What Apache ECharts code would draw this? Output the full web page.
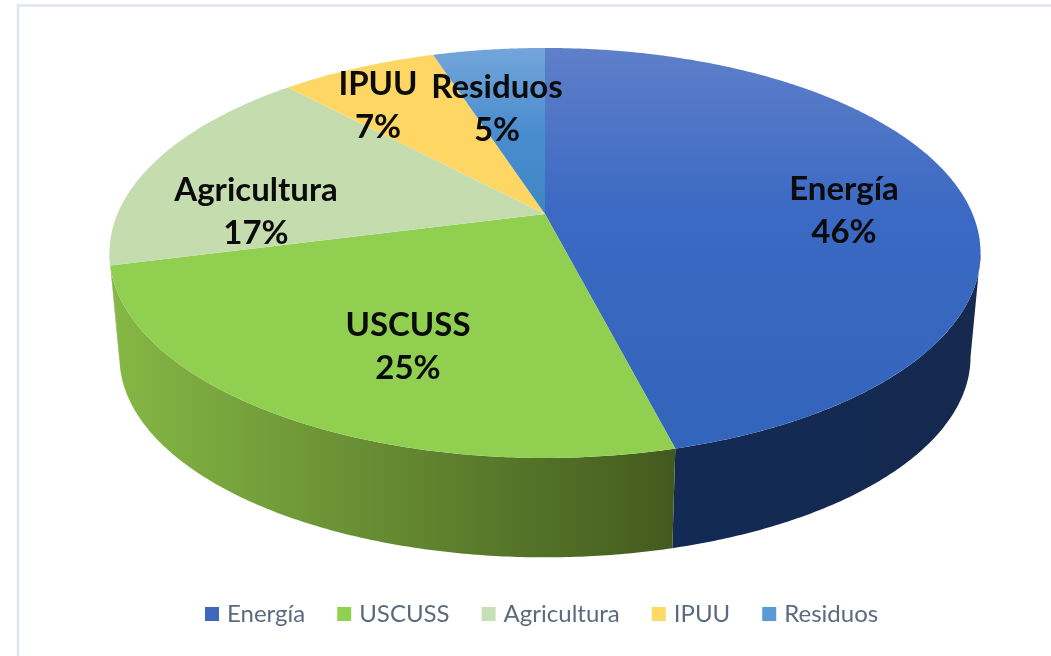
<!DOCTYPE html>
<html>
<head>
<meta charset="utf-8">
<style>html,body{margin:0;padding:0;background:#fff}#c{width:1051px;height:656px;filter:blur(0.45px)}</style>
<script src="https://cdn.jsdelivr.net/npm/echarts@6/dist/echarts.min.js"></script>
</head>
<body>
<div id="c"></div>
<script>
// Data
const categories = ['Energía', 'USCUSS', 'Agricultura', 'IPUU', 'Residuos'];
const shares = [46, 25, 17, 7, 5];

// Styles
const legendColors = ['#3f68bd', '#92d050', '#c5e0b4', '#ffd966', '#5b9bd5'];
const topStops = [
  ['#5f7fc9', '#3b69c3', '#3264ba'],
  ['#90cf50', '#90cf50', '#90cf50'],
  ['#c5dcae', '#c5dcae', '#c5dcae'],
  ['#fdd663', '#fdd663', '#fdd663'],
  ['#74a5da', '#4a8dcf', '#3f86c4']
];
const wallStops = [
  ['#122a54', '#16294f'],
  ['#86b845', '#435a1e'],
  ['#a9c494', '#a9c494'],
  ['#c9a94a', '#c9a94a'],
  ['#3f6f9e', '#3f6f9e']
];
// Label anchors (x, y of text centre)
const labelAnchors = [[844, 211], [408, 347], [256, 212], [378, 106], [497, 109]];

// Projection of the disc
const CX = 545, APEX_Y = 214, R = 427.6, RY = 197.6, P = 0.19;
const WALL_SCALE = 0.977, WALL_Y = 319;
const SIDE_A = Math.acos(-P) * 180 / Math.PI;

function topPoint(deg) {
  const a = deg * Math.PI / 180, s = 1 / (1 + P * Math.cos(a));
  return [CX + R * Math.sin(a) * s, APEX_Y - RY * Math.cos(a) * s];
}
function bottomPoint(deg) {
  const a = deg * Math.PI / 180, s = WALL_SCALE / (1 + P * Math.cos(a));
  return [CX + R * Math.sin(a) * s, WALL_Y - RY * Math.cos(a) * s];
}
function arc(fn, from, to) {
  const pts = [], n = Math.max(2, Math.ceil(Math.abs(to - from) * 2));
  for (let i = 0; i <= n; i++) pts.push(fn(from + (to - from) * i / n));
  return pts;
}

const total = shares.reduce((a, b) => a + b, 0);
let running = 0;
const series = categories.map((name, idx) => {
  const start = running;
  running += shares[idx];
  return {
    type: 'custom',
    name,
    coordinateSystem: 'none',
    silent: true,
    animation: false,
    itemStyle: { color: legendColors[idx] },
    data: [[shares[idx], start]],
    renderItem(params, api) {
      const value = api.value(0), a1 = api.value(1) / total * 360, a2 = a1 + value / total * 360;
      const G = echarts.graphic.LinearGradient;
      const ts = topStops[idx], ws = wallStops[idx];
      const children = [];
      const wFrom = Math.max(a1, SIDE_A), wTo = Math.min(a2, 360 - SIDE_A);
      if (wTo > wFrom) {
        const pts = arc(topPoint, wFrom, wTo).concat(arc(bottomPoint, wTo, wFrom));
        const xs = pts.map(p => p[0]);
        children.push({
          type: 'polygon', z2: 1,
          shape: { points: pts },
          style: {
            fill: new G(Math.min.apply(null, xs), 0, Math.max.apply(null, xs), 0,
              [{ offset: 0, color: ws[0] }, { offset: 1, color: ws[1] }], true)
          }
        });
      }
      const topFill = new G(0, 48, 0, 458, [
        { offset: 0, color: ts[0] }, { offset: 0.4, color: ts[1] }, { offset: 1, color: ts[2] }
      ], true);
      if (idx === 4) {
        topFill.y2 = 214;
        topFill.colorStops[1].offset = 0.5;
      }
      children.push({
        type: 'polygon', z2: 2,
        shape: { points: [[CX, APEX_Y]].concat(arc(topPoint, a1, a2)) },
        style: { fill: topFill }
      });
      children.push({
        type: 'text', z2: 10,
        x: labelAnchors[idx][0], y: labelAnchors[idx][1],
        style: {
          text: name + '\n' + value + '%',
          align: 'center', verticalAlign: 'middle',
          textAlign: 'center', textVerticalAlign: 'middle',
          font: 'bold 33px Lato', lineHeight: 43, fill: '#0b0b0b'
        }
      });
      return { type: 'group', children };
    }
  };
});

const chart = echarts.init(document.getElementById('c'), null, { renderer: 'canvas' });
chart.setOption({
  animation: false,
  backgroundColor: '#fff',
  graphic: [{
    type: 'rect', z: -10,
    shape: { x: 18, y: 5.5, width: 1200, height: 800 },
    style: { fill: '#fff', stroke: '#dfe5ee', lineWidth: 2.5 }
  }],
  legend: {
    left: 200, top: 597,
    icon: 'rect', itemWidth: 14, itemHeight: 14, itemGap: 32,
    selectedMode: false,
    textStyle: { fontFamily: 'Lato', fontSize: 24, color: '#5a6b80', padding: [0, 0, 0, 3] },
    data: categories
  },
  series
});
</script>
</body>
</html>
